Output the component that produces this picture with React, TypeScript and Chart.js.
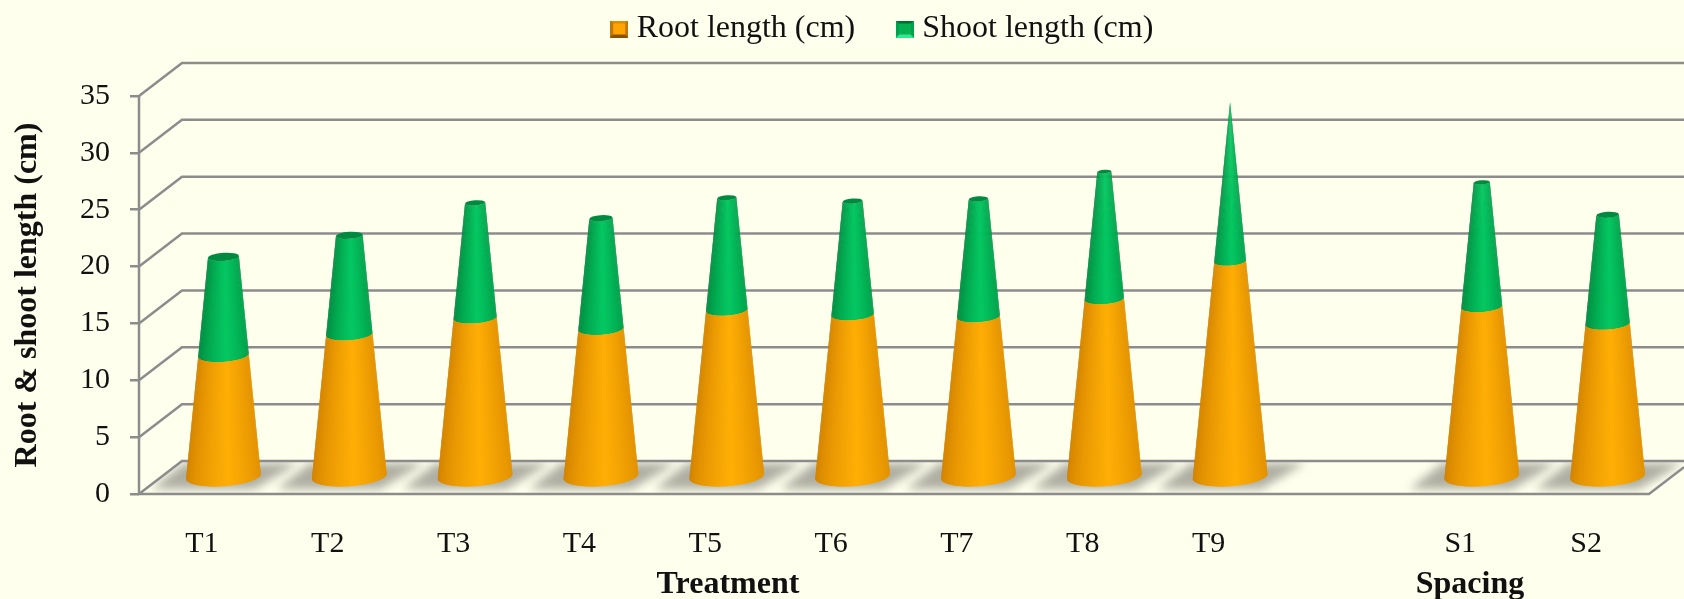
import React, { useEffect, useRef } from "react";
import { Chart, BarController, registerables } from "chart.js";

Chart.register(...registerables);

const categories = ["T1", "T2", "T3", "T4", "T5", "T6", "T7", "T8", "T9", "", "S1", "S2"];
const rootLength = [10.75, 12.6, 14.05, 13.07, 14.72, 14.32, 14.15, 15.7, 19.0, null, 15.02, 13.52];
const shootLength = [8.65, 8.7, 10.1, 9.73, 9.88, 9.98, 10.35, 11.2, 14.0, null, 10.93, 9.58];
const yTicks = [0, 5, 10, 15, 20, 25, 30, 35];
const groupTitles = [
  { text: "Treatment", x: 728 },
  { text: "Spacing", x: 1470 },
];

const FONT = "'Liberation Serif', 'Times New Roman', serif";
const BG = "#FFFFEE";
const GRID = "#8c8c8c";
const TEXT = "#111111";
const DEPTH_X = 43;
const DEPTH_Y = 33;
const ELLIPSE = 0.265;
const TILT = 0.065;
const SLICES = 56;

const totals = rootLength.map((r, i) => (r ?? 0) + (shootLength[i] ?? 0));
const apexValue = Math.max(...totals);

const hex = (h: string) => [1, 3, 5].map((i) => parseInt(h.slice(i, i + 2), 16));
const mix = (a: string, b: string, f: number) => {
  const A = hex(a);
  const B = hex(b);
  return `rgb(${A.map((v, i) => Math.round(v + (B[i] - v) * f)).join(",")})`;
};

class ConeController extends BarController {
  static id = "cone";
  static defaults = BarController.defaults;
  static overrides = BarController.overrides;

  draw() {
    const chart = this.chart;
    const ctx = chart.ctx;
    const ds: any = this.getDataset();
    const yScale = chart.scales.y;
    const apexY = yScale.getPixelForValue(apexValue) - DEPTH_Y / 2;
    const zeroY = yScale.getPixelForValue(0) - DEPTH_Y / 2;
    const meta = this.getMeta();
    ctx.save();
    meta.data.forEach((el: any, i: number) => {
      if (ds.data[i] == null) return;
      const cx = el.x + DEPTH_X / 2;
      const y1 = el.base - DEPTH_Y / 2;
      const y2 = el.y - DEPTH_Y / 2;
      const R = el.width / 2;
      const radius = (y: number) => (R * (y - apexY)) / (zeroY - apexY);
      const r1 = radius(y1);
      const r2 = radius(y2);
      const pt = (y: number, r: number, th: number) => [
        cx + r * Math.sin(th),
        y + ELLIPSE * r * Math.cos(th) - TILT * r * Math.sin(th),
      ];
      const step = Math.PI / SLICES;
      for (let s = 0; s < SLICES; s++) {
        const a = -Math.PI / 2 + step * s;
        const b = Math.min(Math.PI / 2, a + step * 2);
        const t = Math.sin(a + step / 2);
        const f = Math.pow(Math.max(0, 1 - Math.abs(t - 0.12) / 1.12), 0.6);
        const p = [pt(y1, r1, a), pt(y1, r1, b), pt(y2, r2, b), pt(y2, r2, a)];
        ctx.beginPath();
        ctx.moveTo(p[0][0], p[0][1]);
        for (let k = 1; k < 4; k++) ctx.lineTo(p[k][0], p[k][1]);
        ctx.closePath();
        ctx.fillStyle = mix(ds.coneDark, ds.coneLight, f);
        ctx.fill();
      }
      if (ds.coneCap && r2 > 0.5) {
        ctx.beginPath();
        ctx.ellipse(cx, y2, r2, r2 * ELLIPSE, -TILT, 0, Math.PI * 2);
        ctx.fillStyle = ds.coneCap;
        ctx.fill();
      }
    });
    ctx.restore();
  }
}
Chart.register(ConeController as any);

const wallsPlugin = {
  id: "walls",
  beforeDatasetsDraw(chart: any) {
    const { ctx, chartArea: a, scales, width } = chart;
    const y = scales.y;
    const x = scales.x;
    const lx = a.left;
    const fy = y.getPixelForValue(0);
    const bx = lx + DEPTH_X;
    const by = fy - DEPTH_Y;
    ctx.save();
    // floor shadows, one per cone
    ctx.save();
    ctx.beginPath();
    ctx.moveTo(lx, fy);
    ctx.lineTo(a.right, fy);
    ctx.lineTo(a.right + DEPTH_X, by);
    ctx.lineTo(bx, by);
    ctx.closePath();
    ctx.clip();
    ctx.filter = "blur(5px)";
    ctx.fillStyle = "#aeaea2";
    categories.forEach((c, i) => {
      if (!c) return;
      const cx = x.getPixelForValue(i) + DEPTH_X / 2;
      ctx.beginPath();
      ctx.moveTo(cx - 72, fy - 5);
      ctx.lineTo(cx + 31, fy - 5);
      ctx.lineTo(cx + 75, by + 2);
      ctx.lineTo(cx - 39, by + 2);
      ctx.closePath();
      ctx.fill();
    });
    ctx.filter = "none";
    ctx.restore();

    ctx.strokeStyle = GRID;
    ctx.lineWidth = 2.5;
    yTicks.forEach((v) => {
      const py = y.getPixelForValue(v);
      ctx.beginPath();
      ctx.moveTo(lx, py);
      ctx.lineTo(bx, py - DEPTH_Y);
      ctx.lineTo(width, py - DEPTH_Y);
      ctx.stroke();
    });
    ctx.beginPath();
    ctx.moveTo(lx, y.getPixelForValue(35));
    ctx.lineTo(lx, fy);
    ctx.lineTo(a.right, fy);
    ctx.lineTo(width, fy - ((width - a.right) * DEPTH_Y) / DEPTH_X);
    ctx.stroke();
    ctx.restore();
  },
  afterDraw(chart: any) {
    const { ctx } = chart;
    ctx.save();
    ctx.fillStyle = TEXT;
    ctx.font = `bold 32px ${FONT}`;
    ctx.textAlign = "center";
    ctx.textBaseline = "middle";
    groupTitles.forEach((g) => ctx.fillText(g.text, g.x, 585));
    ctx.restore();
  },
};

const backgroundPlugin = {
  id: "bg",
  beforeDraw(chart: any) {
    const { ctx, width, height } = chart;
    ctx.save();
    ctx.fillStyle = BG;
    ctx.fillRect(0, 0, width, height);
    ctx.restore();
  },
};

const legendShift = {
  id: "legendShift",
  afterLayout(chart: any) {
    chart.legend.left += 61;
    chart.legend.right += 61;
    chart.legend.top -= 41;
    chart.legend.bottom -= 41;
  },
};

function swatch(edge: string, top: string, side: string, bottom: string, mid: string) {
  const c = document.createElement("canvas");
  c.width = 18;
  c.height = 17;
  const g = c.getContext("2d")!;
  const tri = (col: string, pts: number[][]) => {
    g.fillStyle = col;
    g.beginPath();
    g.moveTo(pts[0][0], pts[0][1]);
    g.lineTo(pts[1][0], pts[1][1]);
    g.lineTo(pts[2][0], pts[2][1]);
    g.closePath();
    g.fill();
  };
  g.fillStyle = edge;
  g.fillRect(0, 0, 18, 17);
  tri(top, [[0, 0], [18, 0], [9, 8.5]]);
  tri(side, [[0, 0], [0, 17], [9, 8.5]]);
  tri(side, [[18, 0], [18, 17], [9, 8.5]]);
  tri(bottom, [[0, 17], [18, 17], [9, 8.5]]);
  g.fillStyle = mid;
  g.fillRect(3, 3, 12, 11);
  return c;
}

export default function App() {
  const ref = useRef<HTMLCanvasElement>(null);
  useEffect(() => {
    document.body.style.margin = "0";
    document.body.style.background = BG;
    const swatches = [
      swatch("#a86400", "#e08c00", "#c07800", "#8a5200", "#ffa400"),
      swatch("#00813c", "#006e30", "#00a04c", "#30e890", "#05b050"),
    ];
    const chart = new Chart(ref.current!, {
      type: "cone" as any,
      data: {
        labels: categories,
        datasets: [
          {
            label: "Root length (cm)",
            data: rootLength,
            backgroundColor: "#FFA500",
            coneDark: "#cf8000",
            coneLight: "#ffae05",
          },
          {
            label: "Shoot length (cm)",
            data: shootLength,
            backgroundColor: "#05B050",
            coneDark: "#00843c",
            coneLight: "#05c862",
            coneCap: "#008a40",
          },
        ] as any,
      },
      options: {
        responsive: false,
        animation: false,
        layout: { padding: { top: 6, left: 0, right: 35, bottom: 0 } },
        datasets: { cone: { categoryPercentage: 1, barPercentage: 0.596 } } as any,
        scales: {
          x: {
            type: "category",
            stacked: true,
            offset: true,
            grid: { display: false, drawTicks: false },
            border: { display: false },
            ticks: {
              color: TEXT,
              padding: 32,
              maxRotation: 0,
              autoSkip: false,
              font: { family: FONT, size: 30 },
            },
            afterFit: (s: any) => {
              s.height = 105;
            },
          },
          y: {
            type: "linear",
            stacked: true,
            min: 0,
            max: 35,
            afterFit: (s: any) => {
              s.width = 139;
            },
            afterBuildTicks: (s: any) => {
              s.ticks = yTicks.map((value) => ({ value }));
            },
            grid: {
              drawOnChartArea: false,
              drawTicks: true,
              tickLength: 9,
              color: GRID,
              lineWidth: 2.5,
            },
            border: { display: false },
            title: {
              display: true,
              text: "Root & shoot length (cm)",
              color: TEXT,
              font: { family: FONT, size: 32, weight: "bold" },
              padding: { top: 9, bottom: 0 },
            },
            ticks: {
              color: TEXT,
              padding: 20,
              font: { family: FONT, size: 30 },
            },
          },
        },
        plugins: {
          tooltip: { enabled: false },
          legend: {
            display: true,
            position: "top",
            labels: {
              color: TEXT,
              font: { family: FONT, size: 32 },
              usePointStyle: true,
              boxWidth: 3,
              boxHeight: 18,
              padding: 48,
              generateLabels: (ch: any) =>
                ch.data.datasets.map((d: any, i: number) => ({
                  text: d.label,
                  fontColor: TEXT,
                  datasetIndex: i,
                  pointStyle: swatches[i],
                  hidden: false,
                  lineWidth: 0,
                })),
            },
          },
        },
      } as any,
      plugins: [backgroundPlugin, wallsPlugin, legendShift],
    });
    return () => chart.destroy();
  }, []);
  return (
    <canvas
      ref={ref}
      width={1684}
      height={599}
      style={{ display: "block", position: "absolute", left: 0, top: 0 }}
    />
  );
}
